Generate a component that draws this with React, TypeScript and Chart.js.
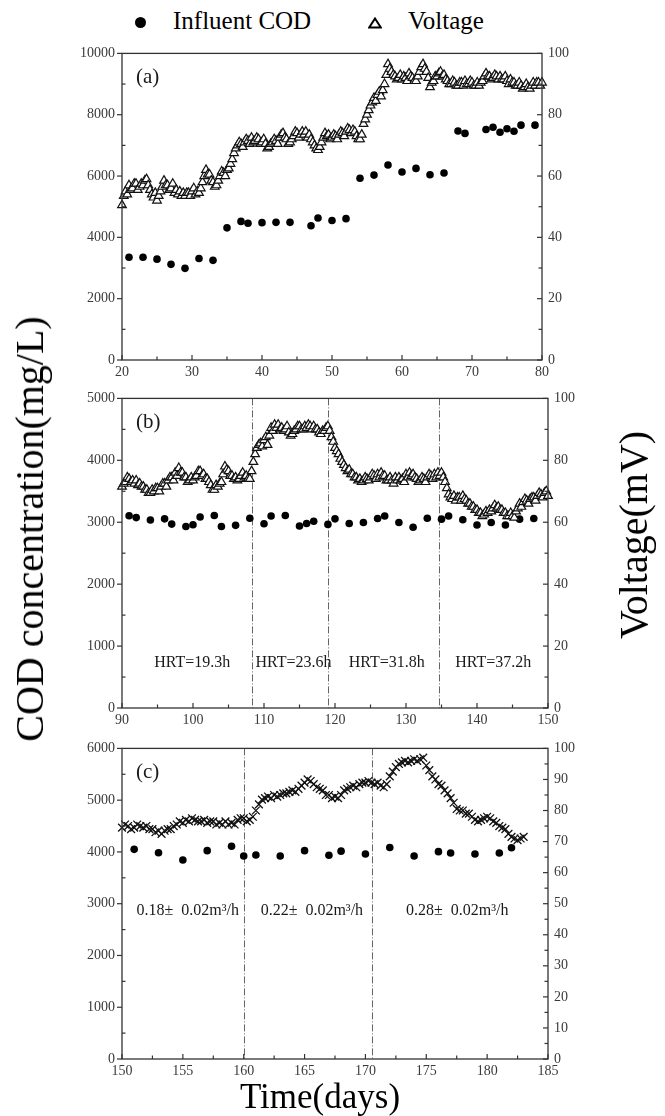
import React, { useEffect, useRef } from "react";
import { Chart, registerables } from "chart.js";

Chart.register(...registerables);

const SERIF = '"Liberation Serif", "Times New Roman", Times, serif';

// ---------------- Panel (a) ----------------
const aCodDays = [21, 23, 25, 27, 29, 31, 33, 35, 37, 38, 40, 42, 44, 47, 48, 50, 52, 54, 56, 58, 60, 62, 64, 66, 68, 69, 72, 73, 74, 75, 76, 77, 79];
const aCod = [3350, 3350, 3290, 3120, 2990, 3310, 3250, 4310, 4520, 4460, 4480, 4490, 4490, 4380, 4630, 4550, 4610, 5930, 6030, 6360, 6130, 6250, 6040, 6100, 7470, 7390, 7520, 7590, 7430, 7540, 7460, 7660, 7660];
const aVoltStart = 20;
const aVoltStep = 0.25;
const aVolt = [
  50.5, 53.5, 55, 54, 57, 55.5, 56, 57.5,
  57.5, 55.5, 56.5, 57.5, 57, 58.5, 59, 57,
  55.5, 54, 53, 54.5, 52, 53.5, 55, 56.5,
  58.5, 57, 57, 55.5, 56, 57.5, 54.5, 55.5,
  54, 55, 53.5, 54.5, 53.5, 54.5, 54.5, 53.5,
  55, 56, 54, 55, 54.5, 56, 58, 60,
  62, 60.5, 60.5, 58.5, 58, 56.5, 57, 58.5,
  60, 61.5, 61, 60, 62, 62.5, 64, 65.5,
  67.5, 69, 70, 71, 70.5, 69.5, 71, 72,
  71.5, 70.5, 72.5, 71, 71.5, 72.5, 72, 70.5,
  71, 72, 70.5, 69, 69.5, 70.5, 71, 72,
  71.5, 70.5, 72.5, 73.5, 74, 72.5, 72, 70.5,
  71, 72, 73, 74.5, 74, 72.5, 73.5, 74.5,
  73.5, 74.5, 72.5, 73.5, 72, 71, 70, 69,
  68.5, 69.5, 71, 72.5, 74, 73, 73.5, 72,
  72.5, 73.5, 73, 72, 73.5, 74.5, 74, 73,
  74.5, 75.5, 75, 74, 75, 74.5, 73, 72,
  72, 73.5, 77, 78.5, 80, 81.5, 83, 84,
  85.5, 84.5, 86.5, 87.5, 86, 88, 90, 93,
  96.5, 95, 94, 93, 92.5, 91.5, 92, 93,
  91.5, 92.5, 92, 91, 93.5, 92.5, 92, 91,
  91, 92.5, 94, 95.5, 96.5, 95, 94, 92,
  89, 90.5, 91, 92.5, 92.5, 93.5, 94, 92.5,
  93, 91.5, 91, 90, 90, 91, 90.5, 89.5,
  89.5, 90.5, 90.5, 89.5, 91, 90, 90, 91,
  90.5, 89.5, 89.5, 90.5, 89.5, 90.5, 91, 92.5,
  93.5, 92.5, 92.5, 91.5, 92, 93, 92.5, 91.5,
  92.5, 91.5, 91.5, 92.5, 91, 90, 91.5, 90.5,
  90.5, 89.5, 89.5, 90.5, 89.5, 88.5, 89, 90,
  89, 88.5, 89.5, 90.5, 89.5, 90.5, 90.5, 89.5,
  90.5,
];
const aDayTicks = [20, 30, 40, 50, 60, 70, 80];
const aCodTicks = [0, 2000, 4000, 6000, 8000, 10000];
const aVoltTicks = [0, 20, 40, 60, 80, 100];

// ---------------- Panel (b) ----------------
const bCodDays = [91, 92, 94, 96, 97, 99, 100, 101, 103, 104, 106, 108, 110, 111, 113, 115, 116, 117, 119, 120, 122, 124, 126, 127, 129, 131, 133, 135, 136, 138, 140, 142, 144, 146, 148];
const bCod = [3105, 3075, 3035, 3055, 2970, 2930, 2960, 3085, 3110, 2930, 2950, 3065, 2975, 3100, 3110, 2940, 2980, 3015, 2965, 3055, 2980, 2995, 3060, 3100, 2995, 2920, 3065, 3050, 3100, 3040, 2955, 2995, 2955, 3050, 3060];
const bVoltStart = 90;
const bVoltStep = 0.25;
const bVolt = [
  71.5, 72.5, 73, 74.5, 74, 73, 73.5, 72.5,
  73.5, 72, 72.5, 71.5, 71.5, 70.5, 70.5, 69.5,
  69.5, 70.5, 70, 71, 71, 70, 71.5, 72.5,
  72.5, 71.5, 73.5, 74.5, 74.5, 73.5, 76, 75,
  77.5, 76, 76, 74.5, 74.5, 73, 73.5, 74.5,
  73.5, 74.5, 75, 76.5, 76.5, 75, 75.5, 74,
  74, 73, 72, 70.5, 70.5, 72, 71.5, 72.5,
  73, 75.5, 78, 77, 76.5, 75, 75, 74,
  74.5, 73.5, 74, 75, 76, 74.5, 75, 74,
  74, 76.5, 79.5, 82, 84, 85, 85.5, 84.5,
  86.5, 87.5, 85, 88, 90.5, 89.5, 91.5, 90.5,
  91.5, 90, 90.5, 89.5, 90, 91, 89, 88,
  88.5, 89.5, 90, 91, 91, 90, 90, 91,
  90.5, 91.5, 91, 90, 91, 90, 90, 89,
  88.5, 89.5, 89.5, 90.5, 91, 89.5, 87.5, 86,
  84, 83, 82, 80.5, 79.5, 78.5, 77.5, 76.5,
  77, 75.5, 75.5, 74.5, 74.5, 73.5, 74, 73,
  73.5, 74.5, 74, 73.5, 74.5, 75.5, 75, 74,
  75.5, 74.5, 76, 75, 75, 73.5, 73.5, 74.5,
  73.5, 72.5, 74.5, 73.5, 74.5, 73.5, 74, 73,
  75.5, 74.5, 76, 75, 75.5, 74.5, 74, 73,
  73.5, 74.5, 74, 73, 74.5, 75.5, 75, 74,
  75.5, 74.5, 76, 75, 76, 74.5, 73, 71,
  69, 68, 67.5, 68.5, 67, 68, 68, 67,
  68.5, 67.5, 67, 66, 66, 65, 65, 64,
  64, 63, 63, 62, 62.5, 63.5, 63, 64,
  63.5, 64.5, 65.5, 64.5, 65, 64, 64, 63,
  63, 62, 62, 63, 62, 61.5, 63.5, 64.5,
  66, 65, 66.5, 67.5, 67, 66, 67.5, 68,
  68, 67, 68.5, 69.5, 69, 68, 69.5, 70,
  68.5,
];
const bDayTicks = [90, 100, 110, 120, 130, 140, 150];
const bCodTicks = [0, 1000, 2000, 3000, 4000, 5000];
const bVoltTicks = [0, 20, 40, 60, 80, 100];
const bDividers = [108.3, 119, 134.7];
const bNotes = ["HRT=19.3h", "HRT=23.6h", "HRT=31.8h", "HRT=37.2h"];
const bNoteDays = [99.9, 114.15, 127.3, 142.3];
const bNoteCod = 660;

// ---------------- Panel (c) ----------------
const cCodDays = [151, 153, 155, 157, 159, 160, 161, 163, 165, 167, 168, 170, 172, 174, 176, 177, 179, 181, 182];
const cCod = [4050, 3985, 3845, 4025, 4110, 3920, 3940, 3920, 4025, 3935, 4015, 3960, 4085, 3920, 4005, 3980, 3960, 3980, 4080];
const cVoltStart = 150;
const cVoltStep = 0.25;
const cVolt = [
  74.5, 75.5, 75, 74, 74.5, 75.5, 75, 74.5, 75, 74,
  74, 73, 73.5, 72.5, 73.5, 74, 74, 75, 75.5, 76.5,
  76, 77, 76.5, 77.5, 77, 76.5, 76.5, 77, 76, 76.5,
  76.5, 75.5, 76, 75.5, 76.5, 75.5, 76, 75.5, 77, 77.5,
  77.5, 76.5, 77, 78, 80, 82, 83.5, 84, 84.5, 84,
  85, 84.5, 85, 85.5, 85.5, 86, 86.5, 86, 87, 88,
  89, 90, 89.5, 88.5, 87.5, 87, 86.5, 85, 85, 84,
  84.5, 84, 85, 86.5, 87, 87.5, 88, 87.5, 88.5, 89,
  89, 89.5, 89, 88.5, 89, 88, 87.5, 88.5, 91, 92.5,
  94, 95, 95.5, 96, 95.5, 96, 96.5, 96, 96.5, 97,
  94.5, 93, 91, 90, 88.5, 88, 86.5, 85.5, 84, 82.5,
  80.5, 80, 80, 79, 79, 78, 77, 76.5, 77, 77.5,
  78, 77.5, 76.5, 76, 75, 74.5, 74, 72.5, 71.5, 71,
  70.5, 71, 71.5,
];
const cDayTicks = [150, 155, 160, 165, 170, 175, 180, 185];
const cCodTicks = [0, 1000, 2000, 3000, 4000, 5000, 6000];
const cVoltTicks = [0, 10, 20, 30, 40, 50, 60, 70, 80, 90, 100];
const cDividers = [160, 170.55];
const cNotes = ["0.18\u00B1  0.02m\u00B3/h", "0.22\u00B1  0.02m\u00B3/h", "0.28\u00B1  0.02m\u00B3/h"];
const cNoteDays = [155.4, 165.6, 177.55];
const cNoteCod = 2780;

// ---------------- layout config ----------------
type Pt = { x: number; y: number };
type PanelCfg = {
  id: string;
  label: string;
  canvasTop: number;
  canvasHeight: number;
  rightWidth: number;
  xMin: number;
  xMax: number;
  xTicks: number[];
  xMinor: number;
  codMax: number;
  codTicks: number[];
  codMinor: number;
  voltTicks: number[];
  voltMinor: number;
  cod: Pt[];
  volt: Pt[];
  voltStyle: "triangle" | "crossRot";
  dividers: number[];
  notes: { x: number; y: number; text: string }[];
  noteSize: number;
};

const toPts = (xs: number[], ys: number[]): Pt[] => ys.map((y, i) => ({ x: xs[i], y }));
const toSeries = (start: number, step: number, ys: number[]): Pt[] =>
  ys.map((y, i) => ({ x: start + i * step, y }));

const panels: PanelCfg[] = [
  {
    id: "a", label: "(a)", canvasTop: 38, canvasHeight: 346, rightWidth: 123,
    xMin: 20, xMax: 80, xTicks: aDayTicks, xMinor: 5,
    codMax: 10000, codTicks: aCodTicks, codMinor: 1000,
    voltTicks: aVoltTicks, voltMinor: 10,
    cod: toPts(aCodDays, aCod), volt: toSeries(aVoltStart, aVoltStep, aVolt),
    voltStyle: "triangle", dividers: [], notes: [], noteSize: 16,
  },
  {
    id: "b", label: "(b)", canvasTop: 383, canvasHeight: 349, rightWidth: 117,
    xMin: 90, xMax: 150, xTicks: bDayTicks, xMinor: 5,
    codMax: 5000, codTicks: bCodTicks, codMinor: 500,
    voltTicks: bVoltTicks, voltMinor: 10,
    cod: toPts(bCodDays, bCod), volt: toSeries(bVoltStart, bVoltStep, bVolt),
    voltStyle: "triangle", dividers: bDividers,
    notes: bNotes.map((t, i) => ({ x: bNoteDays[i], y: bNoteCod, text: t })), noteSize: 16,
  },
  {
    id: "c", label: "(c)", canvasTop: 733, canvasHeight: 350, rightWidth: 117,
    xMin: 150, xMax: 185, xTicks: cDayTicks, xMinor: 2.5,
    codMax: 6000, codTicks: cCodTicks, codMinor: 500,
    voltTicks: cVoltTicks, voltMinor: 5,
    cod: toPts(cCodDays, cCod), volt: toSeries(cVoltStart, cVoltStep, cVolt),
    voltStyle: "crossRot", dividers: cDividers,
    notes: cNotes.map((t, i) => ({ x: cNoteDays[i], y: cNoteCod, text: t })), noteSize: 16,
  },
];

function makeDecor(p: PanelCfg) {
  const isMajor = (v: number, arr: number[]) => arr.some((t) => Math.abs(t - v) < 1e-6);
  return {
    id: "decor_" + p.id,
    beforeDatasetsDraw(chart: any) {
      const { ctx, chartArea: a, scales } = chart;
      ctx.save();
      ctx.strokeStyle = "#666";
      ctx.lineWidth = 1;
      ctx.setLineDash([7, 2, 1, 2]);
      for (const d of p.dividers) {
        const px = Math.round(scales.x.getPixelForValue(d)) + 0.5;
        ctx.beginPath();
        ctx.moveTo(px, a.top);
        ctx.lineTo(px, a.bottom);
        ctx.stroke();
      }
      ctx.restore();
    },
    afterDraw(chart: any) {
      const { ctx, chartArea: a, scales } = chart;
      ctx.save();
      ctx.strokeStyle = "#333";
      ctx.lineWidth = 1.3;
      ctx.strokeRect(a.left, a.top, a.right - a.left, a.bottom - a.top);
      ctx.lineWidth = 1.2;
      const line = (x1: number, y1: number, x2: number, y2: number) => {
        ctx.beginPath();
        ctx.moveTo(x1, y1);
        ctx.lineTo(x2, y2);
        ctx.stroke();
      };
      for (let v = p.xMin; v <= p.xMax + 1e-6; v += p.xMinor) {
        const px = scales.x.getPixelForValue(v);
        const len = isMajor(v, p.xTicks) ? 5 : 3.5;
        line(px, a.bottom, px, a.bottom - len);
      }
      for (let v = 0; v <= p.codMax + 1e-6; v += p.codMinor) {
        const py = scales.y.getPixelForValue(v);
        if (isMajor(v, p.codTicks)) line(a.left, py, a.left - 5, py);
        else line(a.left, py, a.left + 3.5, py);
      }
      for (let v = 0; v <= 100 + 1e-6; v += p.voltMinor) {
        const py = scales.y1.getPixelForValue(v);
        const len = isMajor(v, p.voltTicks) ? 5 : 3.5;
        line(a.right, py, a.right - len, py);
      }
      ctx.fillStyle = "#1a1a1a";
      ctx.textBaseline = "alphabetic";
      ctx.textAlign = "center";
      ctx.font = `${p.noteSize}px ${SERIF}`;
      for (const n of p.notes) {
        ctx.fillText(n.text, scales.x.getPixelForValue(n.x), scales.y.getPixelForValue(n.y));
      }
      ctx.textAlign = "left";
      ctx.font = `21px ${SERIF}`;
      ctx.fillText(p.label, a.left + 14, a.top + 30);
      ctx.restore();
    },
  };
}

const tickFont = { family: SERIF, size: 14 };
const tickColor = "#3a3a3a";

function PanelChart({ p }: { p: PanelCfg }) {
  const ref = useRef<HTMLCanvasElement>(null);
  useEffect(() => {
    const canvas = ref.current;
    if (!canvas) return;
    const isTri = p.voltStyle === "triangle";
    const chart = new Chart(canvas, {
      type: "scatter",
      data: {
        datasets: [
          {
            label: "Voltage",
            data: p.volt,
            yAxisID: "y1",
            pointStyle: p.voltStyle,
            pointRadius: isTri ? 5 : 5.5,
            borderColor: "#111",
            backgroundColor: isTri ? "#ffffff" : "#111",
            borderWidth: isTri ? 1.2 : 1.3,
            showLine: false,
            clip: false,
          },
          {
            label: "Influent COD",
            data: p.cod,
            yAxisID: "y",
            pointStyle: "circle",
            pointRadius: 3.8,
            backgroundColor: "#000",
            borderColor: "#000",
            borderWidth: 0,
            showLine: false,
            clip: false,
          },
        ],
      },
      options: {
        animation: false,
        responsive: false,
        maintainAspectRatio: false,
        events: [],
        layout: { padding: { top: 10, left: 0, right: 0, bottom: 0 } },
        plugins: { legend: { display: false }, tooltip: { enabled: false } },
        scales: {
          x: {
            type: "linear",
            position: "bottom",
            min: p.xMin,
            max: p.xMax,
            grid: { display: false, drawTicks: false },
            border: { display: false },
            ticks: {
              font: tickFont, color: tickColor, padding: 4,
              maxRotation: 0, minRotation: 0, autoSkip: false,
              callback: (v: any) => String(v),
            },
            afterBuildTicks: (s: any) => { s.ticks = p.xTicks.map((v) => ({ value: v })); },
            afterFit: (s: any) => { s.height = 24; },
          },
          y: {
            type: "linear",
            position: "left",
            min: 0,
            max: p.codMax,
            grid: { display: false, drawTicks: false },
            border: { display: false },
            ticks: {
              font: tickFont, color: tickColor, padding: 7, autoSkip: false,
              callback: (v: any) => String(v),
            },
            afterBuildTicks: (s: any) => { s.ticks = p.codTicks.map((v) => ({ value: v })); },
            afterFit: (s: any) => { s.width = 122; },
          },
          y1: {
            type: "linear",
            position: "right",
            min: 0,
            max: 100,
            grid: { display: false, drawTicks: false },
            border: { display: false },
            ticks: {
              font: tickFont, color: tickColor, padding: 6, autoSkip: false,
              callback: (v: any) => String(v),
            },
            afterBuildTicks: (s: any) => { s.ticks = p.voltTicks.map((v) => ({ value: v })); },
            afterFit: (s: any) => { s.width = p.rightWidth; },
          },
        },
      } as any,
      plugins: [makeDecor(p)],
    });
    return () => chart.destroy();
  }, [p]);
  return (
    <canvas
      ref={ref}
      width={665}
      height={p.canvasHeight}
      style={{ position: "absolute", left: 0, top: p.canvasTop, width: 665, height: p.canvasHeight }}
    />
  );
}

export default function App() {
  return (
    <div
      style={{
        position: "absolute", left: 0, top: 0, width: 665, height: 1116,
        overflow: "hidden", background: "#fff", fontFamily: SERIF, color: "#000",
      }}
    >
      {panels.map((p) => (
        <PanelChart key={p.id} p={p} />
      ))}

      {/* legend */}
      <div style={{ position: "absolute", left: 135, top: 17, width: 11, height: 11, borderRadius: "50%", background: "#000" }} />
      <div style={{ position: "absolute", left: 173, top: 8, fontSize: 25, lineHeight: "25px", whiteSpace: "nowrap" }}>
        Influent COD
      </div>
      <svg style={{ position: "absolute", left: 368, top: 17 }} width={14} height={12}>
        <polygon points="7,1.5 12.8,10.5 1.2,10.5" fill="#fff" stroke="#000" strokeWidth={2} />
      </svg>
      <div style={{ position: "absolute", left: 408, top: 8, fontSize: 25, lineHeight: "25px", whiteSpace: "nowrap" }}>
        Voltage
      </div>

      {/* axis titles */}
      <div
        style={{
          position: "absolute", left: 29.5, top: 529, fontSize: 40, lineHeight: "40px", whiteSpace: "nowrap",
          transform: "translate(-50%, -50%) rotate(-90deg)",
        }}
      >
        COD concentration(mg/L)
      </div>
      <div
        style={{
          position: "absolute", left: 633.5, top: 535, fontSize: 40, lineHeight: "40px", whiteSpace: "nowrap",
          transform: "translate(-50%, -50%) rotate(-90deg)",
        }}
      >
        Voltage(mV)
      </div>
      <div
        style={{
          position: "absolute", left: 320, top: 1079, fontSize: 35, lineHeight: "35px", whiteSpace: "nowrap",
          transform: "translateX(-50%)",
        }}
      >
        Time(days)
      </div>
    </div>
  );
}
